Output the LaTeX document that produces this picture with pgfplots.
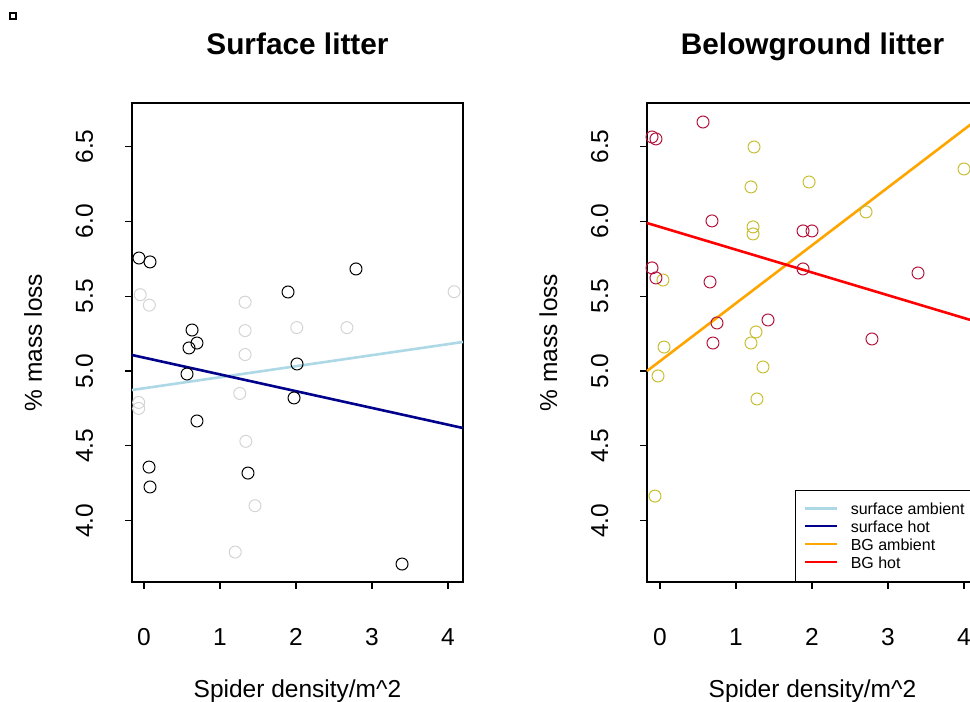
\documentclass[border=0pt]{standalone}
\usepackage{pgfplots}
\pgfplotsset{compat=1.18}
\usepackage{fontspec}
\setmainfont{Liberation Sans}
\definecolor{sambient}{RGB}{173,216,230}
\definecolor{shot}{RGB}{0,0,139}
\definecolor{bgamb}{RGB}{255,165,0}
\definecolor{bghot}{RGB}{255,0,0}
\definecolor{greypt}{RGB}{212,212,212}
\definecolor{yellowpt}{RGB}{200,190,50}
\definecolor{redpt}{RGB}{180,20,60}
\pgfplotsset{
  rstyle/.style={
    scale only axis, width=331pt, height=479pt, anchor=south west,
    ymin=3.590, ymax=6.791,
    xtick={0,1,2,3,4}, ytick={4,4.5,5,5.5,6,6.5},
    xtick pos=bottom, ytick pos=left,
    tick align=outside, major tick length=7pt,
    major tick style={black, line width=1.1pt},
    axis line style={black, line width=1.3pt},
    /pgf/number format/assume math mode=true,
    yticklabel style={/pgf/number format/fixed, /pgf/number format/fixed zerofill, /pgf/number format/precision=1},
    tick label style={font=\fontsize{24.5}{28}\selectfont},
    xticklabel style={anchor=base, yshift=-56pt},
    yticklabel style={xshift=-32pt, rotate=90, anchor=base},
    every axis x label/.style={at={(axis description cs:0.5,0)}, yshift=-115pt, anchor=base, font=\fontsize{24.5}{28}\selectfont},
    every axis y label/.style={at={(axis description cs:0,0.5)}, xshift=-90pt, rotate=90, anchor=base, font=\fontsize{24.5}{28}\selectfont},
    every axis title/.style={at={(axis description cs:0.5,1)}, yshift=48pt, anchor=base, font=\fontsize{29.8}{34}\selectfont\bfseries},
    xlabel={Spider density/m\textasciicircum 2}, ylabel={\% mass loss},
    clip=false,
  },
  pts/.style={only marks, mark=o, mark size=6pt, mark options={line width=1pt, draw=#1}},
  rline/.style={no marks, line width=2.6pt, color=#1},
}
\begin{document}
\begin{tikzpicture}
\path[use as bounding box] (0,0) rectangle (970pt,702pt);
\clip (0,0) rectangle (970pt,702pt);
\draw[line width=1.5pt] (10pt,683pt) rectangle (16pt,689pt);
\begin{axis}[rstyle, at={(132pt,120pt)}, xmin=-0.158, xmax=4.197, title={Surface litter}]
\addplot[pts=greypt] coordinates {
(-0.05,5.51) (0.07,5.44) (-0.07,4.79) (-0.07,4.75) (1.33,5.11) (1.26,4.85)
(1.33,5.46) (1.33,5.27) (1.34,4.53) (1.46,4.10) (1.20,3.79) (4.08,5.53)
(2.01,5.29) (2.67,5.29)
};
\addplot[pts=black] coordinates {
(-0.066,5.755) (0.079,5.729) (0.632,5.274) (0.592,5.154) (0.697,5.187)
(0.566,4.98) (0.697,4.666) (0.066,4.358) (0.079,4.225) (1.368,4.318)
(1.895,5.528) (2.013,5.047) (1.974,4.82) (2.789,5.682) (3.395,3.71)
};
\addplot[rline=sambient] coordinates {(-0.158,4.873) (4.197,5.194)};
\addplot[rline=shot] coordinates {(-0.158,5.107) (4.197,4.619)};
\end{axis}
\begin{axis}[rstyle, at={(647pt,120pt)}, xmin=-0.171, xmax=4.184, title={Belowground litter},
  legend style={at={(axis description cs:1,0)}, anchor=south east, xshift=-3pt, draw=black, line width=0.8pt,
    font=\fontsize{16}{18}\selectfont, inner xsep=8pt, inner ysep=10pt, row sep=0.4pt,
    column sep=0pt,
    cells={anchor=base west, inner sep=0pt, text height=12pt, text depth=3pt}},
  legend image code/.code={\path[draw=none, fill=none] (0pt,6pt) -- (44pt,6pt);
    \draw[#1, line width=2.2pt] (0pt,6pt) -- (32pt,6pt);}]
\addplot[pts=yellowpt, forget plot] coordinates {
(1.237,6.497) (1.197,6.23) (1.961,6.263) (1.224,5.963) (1.224,5.916)
(0.039,5.608) (1.263,5.261) (1.197,5.187) (0.053,5.16) (2.711,6.063)
(4.0,6.35) (-0.026,4.967) (1.355,5.027) (1.276,4.813) (-0.066,4.164)
};
\addplot[pts=redpt, forget plot] coordinates {
(0.566,6.664) (-0.105,6.564) (-0.053,6.551) (0.684,6.003) (1.882,5.936)
(2.0,5.936) (1.882,5.682) (-0.105,5.689) (-0.053,5.622) (0.658,5.595)
(0.75,5.321) (1.421,5.341) (0.697,5.187) (3.395,5.655) (2.789,5.214)
};
\addlegendimage{rline=sambient}
\addlegendentry{surface ambient}
\addlegendimage{rline=shot}
\addlegendentry{surface hot}
\addplot[rline=bgamb] coordinates {(-0.171,5.0) (4.184,6.685)};
\addlegendentry{BG ambient}
\addplot[rline=bghot] coordinates {(-0.171,5.989) (4.184,5.326)};
\addlegendentry{BG hot}
\end{axis}
\end{tikzpicture}
\end{document}
